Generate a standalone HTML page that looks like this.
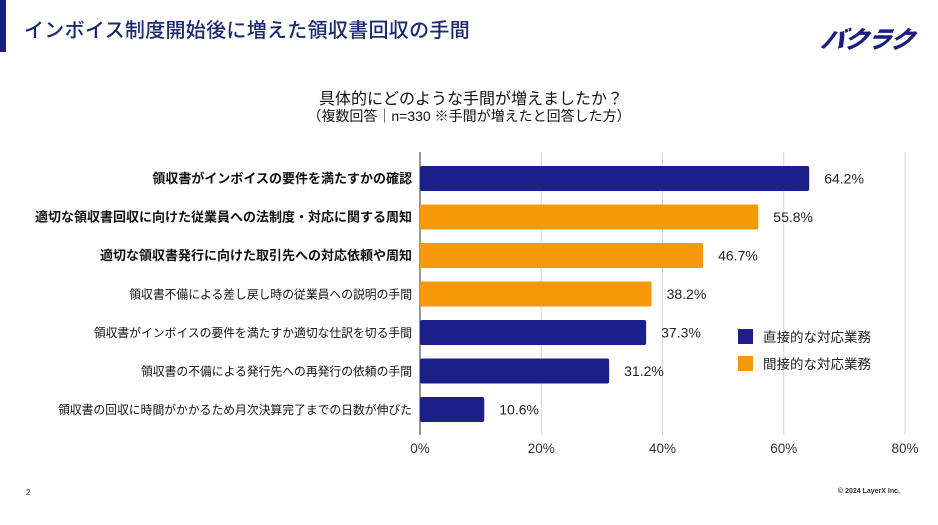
<!DOCTYPE html>
<html><head><meta charset="utf-8"><style>
body{margin:0;width:938px;height:525px;background:#fff;overflow:hidden;position:relative;font-family:"Liberation Sans","Noto Sans CJK JP",sans-serif}
.abs{position:absolute}
</style></head><body>
<div class="abs" style="left:0;top:0;width:6px;height:52px;background:#1b1f7e"></div>
<div class="abs" style="left:24px;top:14px;font-size:20px;color:#1b2a6e;font-weight:500;letter-spacing:0.3px">インボイス制度開始後に増えた領収書回収の手間</div>
<div class="abs" style="left:822px;top:20px;font-size:24px;font-weight:900;font-style:italic;color:#1b1f7e;letter-spacing:-1px;transform:skewX(-12deg)">バクラク</div>
<div class="abs" style="left:0;width:938px;top:85px;text-align:center;font-size:16px;color:#111"><span style="position:relative;left:2px">具体的にどのような手間が増えましたか？</span></div>
<div class="abs" style="left:0;width:938px;top:106px;text-align:center;font-size:14px;color:#111">（複数回答｜n=330 ※手間が増えたと回答した方）</div>
<svg class="abs" style="left:0;top:0" width="938" height="525" id="chart"></svg>
<div class="abs" style="left:26px;top:488px;font-size:8px;color:#333">2</div>
<div class="abs" style="left:838px;top:488px;font-size:7px;font-weight:bold;color:#333">© 2024 LayerX Inc.</div>
<script>
const categories=["領収書がインボイスの要件を満たすかの確認","適切な領収書回収に向けた従業員への法制度・対応に関する周知","適切な領収書発行に向けた取引先への対応依頼や周知","領収書不備による差し戻し時の従業員への説明の手間","領収書がインボイスの要件を満たすか適切な仕訳を切る手間","領収書の不備による発行先への再発行の依頼の手間","領収書の回収に時間がかかるため月次決算完了までの日数が伸びた"];
const values=[64.2,55.8,46.7,38.2,37.3,31.2,10.6];
const types=["direct","indirect","indirect","indirect","direct","direct","direct"];
const boldLabels=[true,true,true,false,false,false,false];
const ticks=[0,20,40,60,80];
const legendLabels=["直接的な対応業務","間接的な対応業務"];
const NS="http://www.w3.org/2000/svg";
const svg=document.getElementById('chart');
const X0=420,X1=905,XMAX=80;
const x=v=>X0+(v/XMAX)*(X1-X0);
const Y0=178.5,STEP=38.5,BH=25;
const y=i=>Y0+i*STEP;
const colors={direct:"#1b1f87",indirect:"#f5990a"};
function mk(t,a){const e=document.createElementNS(NS,t);for(const k in a)e.setAttribute(k,a[k]);svg.appendChild(e);return e;}
ticks.forEach((t,i)=>{
  if(t>0){const g=mk('line',{x1:x(t),x2:x(t),y1:152,y2:435,stroke:'#d6d6d6','stroke-width':1});
  
  }
  const tl=mk('text',{x:x(t),y:453,'text-anchor':'middle','font-size':13.5,fill:'#333'});
  tl.textContent=t+'%';
  
  
});
const ax=mk('line',{x1:X0,x2:X0,y1:152,y2:435,stroke:'#555','stroke-width':1.2});


values.forEach((v,i)=>{
  const r=mk('rect',{x:X0,y:y(i)-BH/2,width:x(v)-X0,height:BH,rx:2,fill:colors[types[i]]});
  
  
  const vl=mk('text',{x:x(v)+15,y:y(i)+5,'font-size':14,fill:'#222'});
  vl.textContent=v.toFixed(1)+'%';
  
  
  const cl=mk('text',{x:412,y:y(i)+4.5,'text-anchor':'end','font-size':boldLabels[i]?13:11.8,'font-weight':boldLabels[i]?'bold':'normal',fill:'#111'});
  cl.textContent=categories[i];
  
  
});
legendLabels.forEach((l,i)=>{
  const s=mk('rect',{x:738,y:329+i*27,width:15,height:15,fill:colors[i?'indirect':'direct']});
  
  
  const t=mk('text',{x:763,y:342+i*27,'font-size':13.5,fill:'#222'});
  t.textContent=l;
  
  
});
</script>
</body></html>
